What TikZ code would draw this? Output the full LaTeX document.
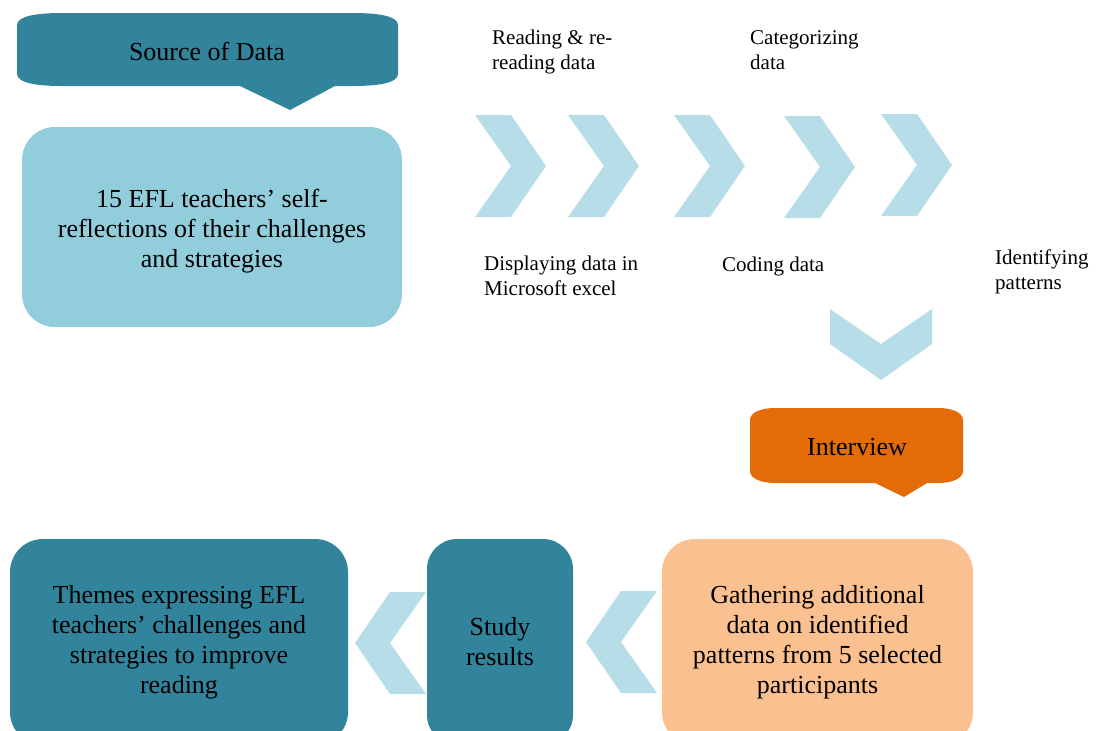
\documentclass[tikz,border=0pt]{standalone}
\usepackage{fontspec}
\setmainfont{Liberation Serif}
\definecolor{tealdark}{HTML}{31849B}
\definecolor{bluelight}{HTML}{92CDDC}
\definecolor{chevblue}{HTML}{B7DDE8}
\definecolor{orangedark}{HTML}{E36C09}
\definecolor{peach}{HTML}{FAC08F}
\begin{document}
\begin{tikzpicture}[x=1pt,y=-1pt,
  bigtext/.style={font=\fontsize{26}{30}\selectfont, align=center, inner sep=0pt},
  smalltext/.style={font=\fontsize{21}{25}\selectfont, align=left, inner sep=0pt, anchor=base west},
  roundbox/.style={rectangle, rounded corners=#1, inner sep=0pt, outer sep=0pt, align=center,
    font=\fontsize{26}{30}\selectfont},
  chevfill/.style={fill=chevblue},
  chevR/.pic={\fill[chevfill] (0,0) -- (36,0) -- (71,51) -- (36,102) -- (0,102) -- (36,51) -- cycle;},
  chevL/.pic={\fill[chevfill] (0,0) -- (-36,0) -- (-71,51) -- (-36,102) -- (0,102) -- (-36,51) -- cycle;},
  chevD/.pic={\fill[chevfill] (0,0) -- (51,35) -- (102,0) -- (102,35) -- (51,71) -- (0,35) -- cycle;}
]
\useasboundingbox (0,0) rectangle (1096,731);
\clip (0,0) rectangle (1096,731);

% Source of Data banner
\fill[tealdark] (17,25) .. controls (17,16) and (37,13) .. (62,13) -- (353,13)
  .. controls (378,13) and (398,16) .. (398,25) -- (398,74)
  .. controls (398,83) and (378,86) .. (353,86) -- (335,86) -- (290,110) -- (240,86)
  -- (62,86) .. controls (37,86) and (17,83) .. (17,74) -- cycle;
\node[bigtext] (source) at (207,51) {Source of Data};

% Self-reflection box
\node[roundbox=33pt, fill=bluelight, minimum width=380pt, minimum height=200pt] (reflect) at (212,227) {};
\node[bigtext] (reflecttxt) at ([yshift=-4pt]reflect.center)
  {15 EFL teachers’ self-\\reflections of their challenges\\and strategies};

% Top row chevrons
\pic at (475,115) {chevR};
\pic at (568,115) {chevR};
\pic at (674,115) {chevR};
\pic at (784,116) {chevR};
\pic at (881,114) {chevR};

% Step labels (anchor at baseline of last line)
\node[smalltext] (read) at (492,69) {Reading \& re-\\reading data};
\node[smalltext] (categ) at (750,69) {Categorizing\\data};
\node[smalltext] (display) at (484,295) {Displaying data in\\Microsoft excel};
\node[smalltext] (coding) at (722,271) {Coding data};
\node[smalltext] (identify) at (995,289) {Identifying\\patterns};

% Down chevron
\pic at (830,309) {chevD};

% Interview banner
\fill[orangedark] (750,420) .. controls (750,412) and (762,408) .. (775,408) -- (938,408)
  .. controls (951,408) and (963,412) .. (963,420) -- (963,471)
  .. controls (963,479) and (951,483) .. (938,483) -- (927,483) -- (904,497) -- (875,483)
  -- (775,483) .. controls (762,483) and (750,479) .. (750,471) -- cycle;
\node[bigtext] (interview) at (857,447) {Interview};

% Bottom row boxes
\node[roundbox=33pt, fill=peach, minimum width=311pt, minimum height=206pt] (gather) at (817.5,642)
  {Gathering additional\\data on identified\\patterns from 5 selected\\participants};
\node[roundbox=30pt, fill=tealdark, minimum width=146pt, minimum height=206pt] (study) at (500,642)
  {Study\\results};
\node[roundbox=33pt, fill=tealdark, minimum width=338pt, minimum height=206pt] (themes) at (179,642)
  {Themes expressing EFL\\teachers’ challenges and\\strategies to improve\\reading};

% Bottom row chevrons (pointing left)
\pic at (657,591) {chevL};
\pic at (426,592) {chevL};
\end{tikzpicture}
\end{document}
